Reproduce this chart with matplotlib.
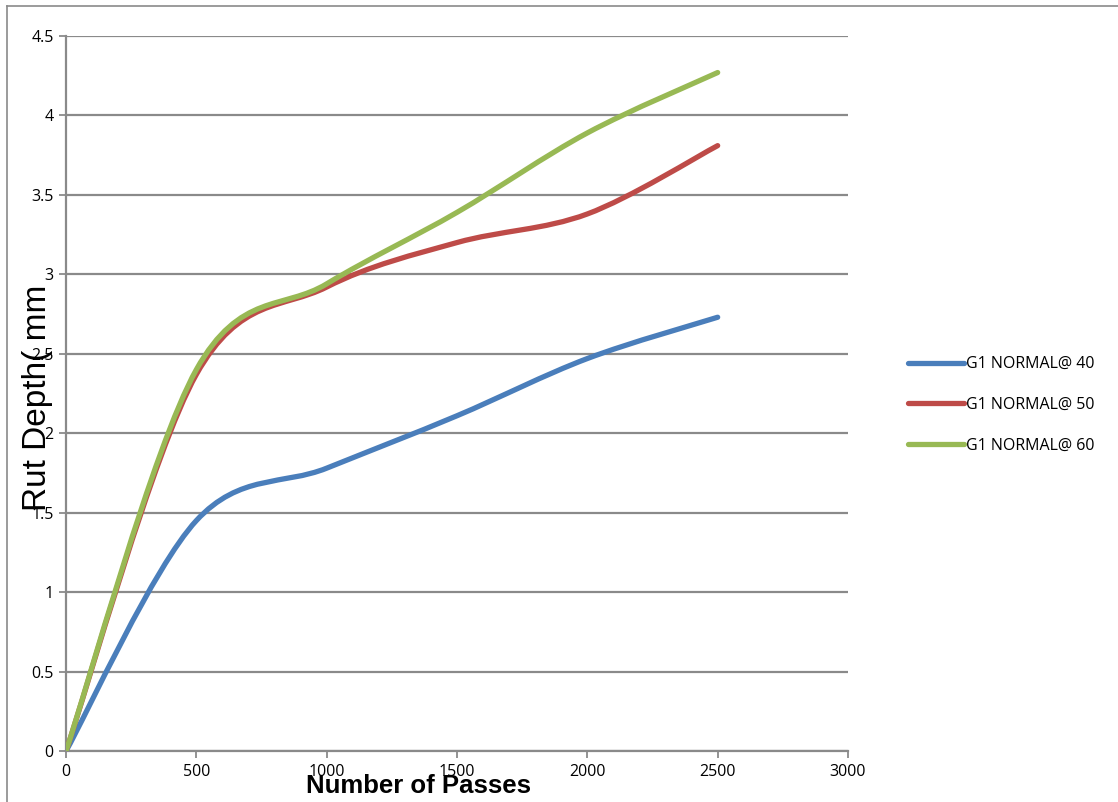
import numpy as np
import matplotlib.pyplot as plt
from matplotlib.path import Path
from matplotlib.patches import PathPatch
from matplotlib.lines import Line2D

# Antal överfarter och spårdjup (mm) för de tre temperaturerna
passes = [0, 500, 1000, 1500, 2000, 2500]
rut_40 = [0, 1.45, 1.78, 2.11, 2.47, 2.73]
rut_50 = [0, 2.37, 2.92, 3.20, 3.38, 3.81]
rut_60 = [0, 2.40, 2.94, 3.39, 3.89, 4.27]
labels = ['G1 NORMAL@ 40', 'G1 NORMAL@ 50', 'G1 NORMAL@ 60']
colors = ['#4A7EBB', '#BE4B48', '#98B954']


# Utjämnad linje som i Excel: Bezier-kurvor genom datapunkterna
def smooth_path(x, y):
    p = np.column_stack([x, y]).astype(float)
    n = len(p)
    verts = [p[0]]
    codes = [Path.MOVETO]
    for i in range(n - 1):
        prev = p[max(i - 1, 0)]
        nxt = p[min(i + 2, n - 1)]
        c1 = p[i] + (p[i + 1] - prev) / 6
        c2 = p[i + 1] - (nxt - p[i]) / 6
        verts += [c1, c2, p[i + 1]]
        codes += [Path.CURVE4] * 3
    return Path(verts, codes)


fig = plt.figure(figsize=(11.18, 8.02), dpi=100)
ax = fig.add_axes([66 / 1118, 51 / 802, 782 / 1118, 715 / 802])

for y, c in zip([rut_40, rut_50, rut_60], colors):
    ax.add_patch(PathPatch(smooth_path(passes, y), facecolor='none',
                           edgecolor=c, lw=3.8, capstyle='round', zorder=3))

ax.set_xlim(0, 3000)
ax.set_ylim(0, 4.5)
ax.set_xticks(np.arange(0, 3001, 500))
ax.set_yticks(np.arange(0, 4.51, 0.5))
ax.set_yticklabels(['0', '0.5', '1', '1.5', '2', '2.5', '3', '3.5', '4', '4.5'])
ax.yaxis.grid(True, color='#8a8a8a', lw=1.6)
ax.set_axisbelow(True)
for s in ['top', 'right']:
    ax.spines[s].set_visible(False)
for s in ['left', 'bottom']:
    ax.spines[s].set_color('#8a8a8a')
    ax.spines[s].set_linewidth(1.6)
ax.tick_params(colors='#8a8a8a', width=1.3, length=5, labelcolor='black',
               labelsize=11.5, pad=4)
for t in ax.get_xticklabels() + ax.get_yticklabels():
    t.set_family('Open Sans')

fig.text(419 / 1118, 1 - 786 / 802, 'Number of Passes', ha='center', va='center',
         fontsize=18.5, fontweight='bold', family='Liberation Sans')
fig.text(38 / 1118, 1 - 398 / 802, 'Rut Depth( mm', ha='center', va='center',
         rotation=90, fontsize=24, family='Liberation Sans')

handles = [Line2D([], [], color=c, lw=3.8, solid_capstyle='round') for c in colors]
fig.legend(handles, labels, loc='center left', bbox_to_anchor=(894 / 1118, 1 - 405 / 802),
           frameon=False, handlelength=3.5, handletextpad=0.1,
           labelspacing=1.55, prop={'family': 'Open Sans', 'size': 11.5})

# Ram runt diagrammet
fig.add_artist(Line2D([7 / 1118, 7 / 1118], [0, 1 - 6 / 802], color='#8a8a8a', lw=1.2))
fig.add_artist(Line2D([7 / 1118, 1], [1 - 6 / 802, 1 - 6 / 802], color='#8a8a8a', lw=1.2))

fig.savefig('out.png', dpi=100)
